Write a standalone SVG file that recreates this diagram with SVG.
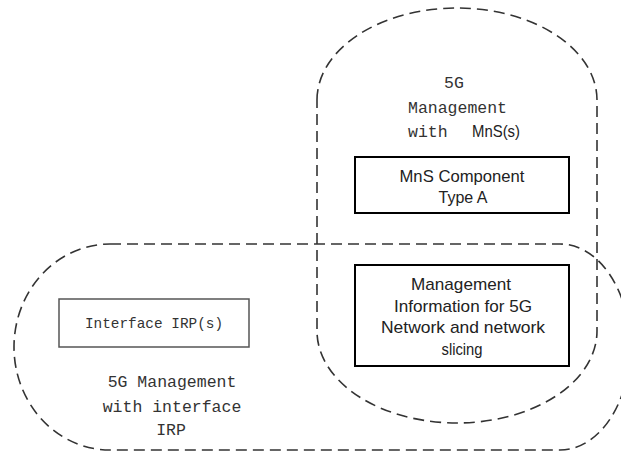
<svg xmlns="http://www.w3.org/2000/svg" width="621" height="452" viewBox="0 0 621 452">
<style>
.dash{fill:none;stroke:#333;stroke-width:1.6;stroke-dasharray:11 6}
.box{fill:#fff;stroke:#000;stroke-width:2}
.box2{fill:#fff;stroke:#555;stroke-width:1.5}
.mono{font-family:"Liberation Mono",monospace;font-size:16.5px;fill:#333}
.sans{font-family:"Liberation Sans",Arial,sans-serif;font-size:17px;fill:#222}
</style>
<rect width="621" height="452" fill="#fff"/>
<g id="connectors"></g>
<g id="mns-area">
<path class="dash" d="M317,100 A140,92 0 0 1 597,100 L597,331 A140,92 0 0 1 317,331 Z"/>
<text class="mono" x="454" y="88" text-anchor="middle">5G</text>
<text class="mono" x="408" y="113">Management</text>
<text class="mono" x="408" y="137">with</text>
<text class="sans" x="472" y="137" textLength="48" lengthAdjust="spacingAndGlyphs">MnS(s)</text>
</g>
<g id="irp-area">
<path class="dash" d="M110,244 L560,244 A70,103 0 0 1 560,450 L110,450 A96,103 0 0 1 110,244 Z"/>
<text class="mono" x="172" y="387" text-anchor="middle">5G Management</text>
<text class="mono" x="172" y="412" text-anchor="middle">with interface</text>
<text class="mono" x="171" y="435" text-anchor="middle">IRP</text>
</g>
<g id="mns-component">
<rect class="box" x="355" y="157" width="214" height="56"/>
<text class="sans" x="462" y="182" text-anchor="middle" textLength="125" lengthAdjust="spacingAndGlyphs">MnS Component</text>
<text class="sans" x="463" y="203" text-anchor="middle" textLength="49" lengthAdjust="spacingAndGlyphs">Type A</text>
</g>
<g id="mgmt-info">
<rect class="box" x="355" y="265" width="214" height="101"/>
<text class="sans" x="461" y="290" text-anchor="middle" textLength="100" lengthAdjust="spacingAndGlyphs">Management</text>
<text class="sans" x="463" y="312" text-anchor="middle" textLength="138" lengthAdjust="spacingAndGlyphs">Information for 5G</text>
<text class="sans" x="463" y="333" text-anchor="middle" textLength="164" lengthAdjust="spacingAndGlyphs">Network and network</text>
<text class="sans" x="462" y="355" text-anchor="middle" textLength="41" lengthAdjust="spacingAndGlyphs">slicing</text>
</g>
<g id="interface-irp">
<rect class="box2" x="59" y="299" width="190" height="48"/>
<text class="mono" x="154" y="328" text-anchor="middle" style="font-size:14.4px">Interface IRP(s)</text>
</g>
</svg>
